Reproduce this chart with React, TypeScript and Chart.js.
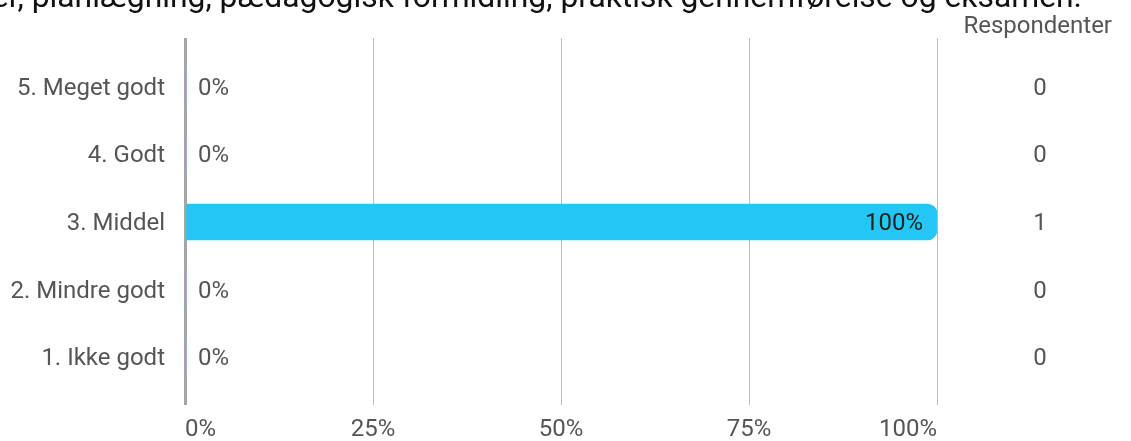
import React, { useEffect, useRef } from "react";
import { Chart, registerables } from "chart.js";

Chart.register(...registerables);

const categories = ["5. Meget godt", "4. Godt", "3. Middel", "2. Mindre godt", "1. Ikke godt"];
const percentages = [0, 0, 100, 0, 0];
const respondents = [0, 0, 1, 0, 0];
const xTicks = [0, 25, 50, 75, 100];
const respondentsHeader = "Respondenter";
const titleText = "er, planlægning, pædagogisk formidling, praktisk gennemførelse og eksamen.";
const titleFitPart = "planlægning, pædagogisk formidling, praktisk gennemførelse og eksamen.";

const FONT = "Roboto";
const FS = 24;
const GRAY = "#555555";
const DY = 2;

export default function App() {
  const ref = useRef<HTMLCanvasElement | null>(null);

  useEffect(() => {
    document.body.style.margin = "0";
    const canvas = ref.current;
    if (!canvas) return;

    const overlay = {
      id: "overlay",
      afterDatasetsDraw(chart: any) {
        const ctx = chart.ctx;
        const xs = chart.scales.x;
        const ys = chart.scales.y;
        ctx.save();
        ctx.font = `${FS}px ${FONT}`;
        ctx.textBaseline = "middle";
        percentages.forEach((p, i) => {
          const y = ys.getPixelForValue(i) + DY;
          const end = xs.getPixelForValue(p);
          const label = `${p}%`;
          if (p > 10) {
            ctx.textAlign = "right";
            ctx.fillStyle = "#222222";
            ctx.fillText(label, end - 14, y);
          } else {
            ctx.textAlign = "left";
            ctx.fillStyle = GRAY;
            ctx.fillText(label, end + 13, y);
          }
          ctx.textAlign = "center";
          ctx.fillStyle = GRAY;
          ctx.fillText(String(respondents[i]), 1040, y);
          // category label
          ctx.textAlign = "right";
          ctx.fillStyle = GRAY;
          ctx.fillText(categories[i], ys.right - 20, y);
        });
        ctx.textAlign = "right";
        ctx.fillStyle = GRAY;
        ctx.fillText(respondentsHeader, 1112, 27);

        // clipped title
        ctx.font = `100px ${FONT}`;
        const w = ctx.measureText(titleFitPart).width;
        const size = (100 * (1082 - 31)) / w;
        ctx.font = `${size}px ${FONT}`;
        ctx.textBaseline = "alphabetic";
        ctx.textAlign = "right";
        ctx.fillStyle = "#111111";
        ctx.fillText(titleText, 1082, 7);
        ctx.restore();
      },
    };

    const gridColor = (c: any) => (c.tick && c.tick.value === 0 ? "#a6a6a6" : "#bdbdbd");
    const gridWidth = (c: any) => (c.tick && c.tick.value === 0 ? 3 : 1);

    const chart = new Chart(canvas, {
      type: "bar",
      data: {
        labels: categories,
        datasets: [
          {
            data: percentages,
            backgroundColor: "#23c6f4",
            borderWidth: 0,
            borderRadius: 10,
            borderSkipped: "start",
            barThickness: 36,
          },
        ],
      },
      options: {
        indexAxis: "y",
        responsive: false,
        animation: false,
        layout: { padding: { left: 0, right: 194, top: 38, bottom: 0 } },
        plugins: {
          legend: { display: false },
          tooltip: { enabled: false },
          title: { display: false },
        },
        scales: {
          x: {
            type: "linear",
            position: "bottom",
            min: 0,
            max: 100,
            afterBuildTicks: (s: any) => {
              s.ticks = xTicks.map((v) => ({ value: v }));
            },
            afterFit: (s: any) => {
              s.height = 50;
            },
            ticks: {
              callback: (v: any) => `${v}%`,
              align: "inner",
              color: GRAY,
              font: { family: FONT, size: FS },
              padding: 11,
              maxRotation: 0,
            },
            grid: {
              color: gridColor,
              lineWidth: gridWidth,
              tickLength: 14,
              drawTicks: true,
            },
            border: { display: false },
          },
          x2: {
            type: "linear",
            position: "top",
            min: 0,
            max: 100,
            afterBuildTicks: (s: any) => {
              s.ticks = xTicks.map((v) => ({ value: v }));
            },
            afterFit: (s: any) => {
              s.height = 15;
            },
            ticks: { display: false },
            grid: {
              drawOnChartArea: false,
              color: gridColor,
              lineWidth: gridWidth,
              tickLength: 15,
              drawTicks: true,
            },
            border: { display: false },
          },
          y: {
            type: "category",
            position: "left",
            offset: true,
            afterFit: (s: any) => {
              s.width = 185;
            },
            ticks: { display: false },
            grid: { display: false, drawTicks: false },
            border: { display: false },
          },
        },
      },
      plugins: [overlay],
    } as any);

    return () => chart.destroy();
  }, []);

  return <canvas ref={ref} width={1131} height={441} style={{ display: "block" }} />;
}
